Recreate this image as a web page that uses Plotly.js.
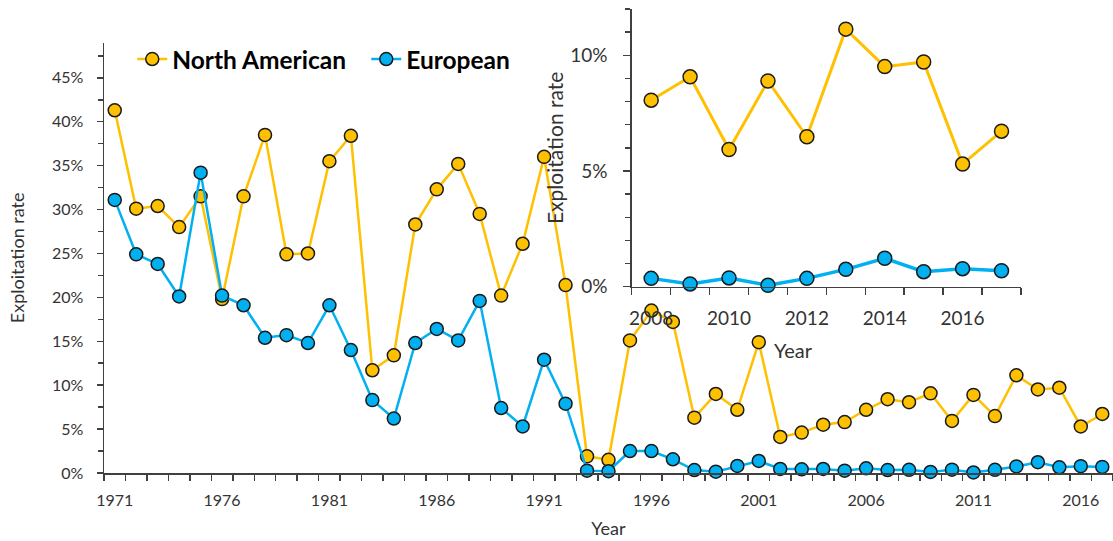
<!DOCTYPE html>
<html>
<head>
<meta charset="utf-8">
<script src="https://cdn.plot.ly/plotly-3.0.1.min.js"></script>
<style>
  html, body { margin: 0; padding: 0; background: #ffffff; }
  #chart { width: 1113px; height: 541px; }
</style>
</head>
<body>
<div id="chart"></div>
<script>
// ---- Data (exploitation rate, %) ----
const years = [1971, 1972, 1973, 1974, 1975, 1976, 1977, 1978, 1979, 1980,
               1981, 1982, 1983, 1984, 1985, 1986, 1987, 1988, 1989, 1990,
               1991, 1992, 1993, 1994, 1995, 1996, 1997, 1998, 1999, 2000,
               2001, 2002, 2003, 2004, 2005, 2006, 2007, 2008, 2009, 2010,
               2011, 2012, 2013, 2014, 2015, 2016, 2017];
const northAmerican = [41.3, 30.1, 30.4, 28.0, 31.5, 19.8, 31.5, 38.5, 24.9, 25.0,
                       35.5, 38.4, 11.7, 13.4, 28.3, 32.3, 35.2, 29.5, 20.2, 26.1,
                       36.0, 21.4, 1.9, 1.5, 15.1, 18.5, 17.2, 6.3, 9.0, 7.2,
                       14.9, 4.1, 4.6, 5.5, 5.8, 7.2, 8.4, 8.06, 9.07, 5.93,
                       8.89, 6.48, 11.13, 9.51, 9.71, 5.30, 6.72];
const european = [31.1, 24.9, 23.8, 20.1, 34.2, 20.2, 19.1, 15.4, 15.7, 14.8,
                  19.1, 14.0, 8.3, 6.2, 14.8, 16.4, 15.1, 19.6, 7.4, 5.3,
                  12.9, 7.9, 0.27, 0.2, 2.5, 2.5, 1.56, 0.34, 0.15, 0.8,
                  1.37, 0.46, 0.42, 0.46, 0.27, 0.53, 0.34, 0.36, 0.12, 0.38,
                  0.06, 0.36, 0.75, 1.23, 0.65, 0.78, 0.69];
const seriesNames = ["North American", "European"];
const insetFirstYear = 2008;

// inset subset (2008 onwards), taken from the same series
const insetStart = years.indexOf(insetFirstYear);
const insetYears = years.slice(insetStart);
const insetNA = northAmerican.slice(insetStart);
const insetEU = european.slice(insetStart);

// ---- Styles ----
const YEL = "#FFC000", BLU = "#00B0F0", EDGE = "#1a1a1a";
const AXC = "#404040", TXT = "#333333", FONT = "Lato, 'Liberation Sans', Arial, sans-serif";

function series(x, y, name, color, opts) {
  return {
    type: "scatter", mode: "lines+markers", x: x, y: y, name: name,
    xaxis: opts.xaxis, yaxis: opts.yaxis, showlegend: opts.showlegend,
    line: { color: color, width: opts.lw },
    marker: { symbol: "circle", size: opts.ms, color: color, line: { color: EDGE, width: 1.5 } },
    hoverinfo: "x+y+name", cliponaxis: false
  };
}

const traces = [
  series(years, northAmerican, seriesNames[0], YEL, { xaxis: "x", yaxis: "y", showlegend: true, lw: 2.5, ms: 13 }),
  series(years, european, seriesNames[1], BLU, { xaxis: "x", yaxis: "y", showlegend: true, lw: 2.5, ms: 13 }),
  series(insetYears, insetNA, seriesNames[0], YEL, { xaxis: "x2", yaxis: "y2", showlegend: false, lw: 3, ms: 14 }),
  series(insetYears, insetEU, seriesNames[1], BLU, { xaxis: "x2", yaxis: "y2", showlegend: false, lw: 3.5, ms: 14 })
];

const layout = {
  width: 1113, height: 541,
  margin: { l: 104, r: 0, t: 9, b: 68 },
  paper_bgcolor: "#ffffff", plot_bgcolor: "rgba(0,0,0,0)",
  font: { family: FONT, color: TXT },
  showlegend: true,
  legend: {
    orientation: "h", x: 0.028, xanchor: "left", y: 0.892, yanchor: "middle",
    bgcolor: "rgba(0,0,0,0)",
    font: { family: FONT, size: 24.5, color: "#000000", weight: "bold" },
    itemwidth: 30, entrywidth: 189, entrywidthmode: "pixels"
  },
  xaxis: {
    domain: [0, 1], anchor: "y", range: [1970.5, 2017.5],
    tickmode: "linear", tick0: 1971, dtick: 5,
    ticks: "outside", ticklen: 6, tickcolor: "rgba(0,0,0,0)", tickwidth: 1.5,
    minor: { tickmode: "linear", tick0: 1970.5, dtick: 1, ticks: "outside", ticklen: 6, tickcolor: AXC, tickwidth: 1.5, showgrid: false },
    showline: true, linecolor: AXC, linewidth: 1.5,
    showgrid: false, zeroline: false,
    tickfont: { family: FONT, size: 16, color: TXT },
    ticklabelstandoff: 6,
    title: { text: "Year", font: { family: FONT, size: 18, color: TXT }, standoff: 14 }
  },
  yaxis: {
    domain: [0, 0.9274], anchor: "x", range: [0, 49],
    tickmode: "linear", tick0: 0, dtick: 5, ticksuffix: "%",
    ticks: "outside", ticklen: 6, tickcolor: AXC, tickwidth: 1.5,
    minor: { tickmode: "linear", tick0: 0, dtick: 2.5, ticks: "outside", ticklen: 5, tickcolor: AXC, tickwidth: 1.5, showgrid: false },
    showline: true, linecolor: AXC, linewidth: 1.5,
    showgrid: false, zeroline: false,
    tickfont: { family: FONT, size: 16, color: TXT },
    ticklabelstandoff: 10,
    title: { text: "Exploitation rate", font: { family: FONT, size: 18, color: TXT }, standoff: 22 }
  },
  xaxis2: {
    domain: [0.523, 0.9088], anchor: "y2", range: [2007.5, 2017.5],
    tickmode: "linear", tick0: 2008, dtick: 2,
    ticks: "outside", ticklen: 7, tickcolor: "rgba(0,0,0,0)", tickwidth: 1.5,
    minor: { tickmode: "linear", tick0: 2007.5, dtick: 1, ticks: "outside", ticklen: 7, tickcolor: AXC, tickwidth: 1.5, showgrid: false },
    showline: true, linecolor: AXC, linewidth: 1.5,
    showgrid: false, zeroline: false,
    tickfont: { family: FONT, size: 19, color: TXT },
    ticklabelstandoff: 7
  },
  yaxis2: {
    domain: [0.4015, 1], anchor: "x2", range: [0, 12],
    tickmode: "linear", tick0: 0, dtick: 5, ticksuffix: "%",
    ticks: "outside", ticklen: 7, tickcolor: AXC, tickwidth: 1.5,
    minor: { tickmode: "linear", tick0: 0, dtick: 1, ticks: "outside", ticklen: 5, tickcolor: AXC, tickwidth: 1.5, showgrid: false },
    showline: true, linecolor: AXC, linewidth: 1.5,
    showgrid: false, zeroline: false,
    tickfont: { family: FONT, size: 19, color: TXT },
    ticklabelstandoff: 12,
    title: { text: "Exploitation rate", font: { family: FONT, size: 21, color: TXT }, standoff: 1 }
  },
  annotations: [{
    text: "Year", xref: "paper", yref: "paper", x: 0.6829, y: 0.265,
    xanchor: "center", yanchor: "middle", showarrow: false,
    font: { family: FONT, size: 20, color: TXT }
  }]
};

Plotly.newPlot("chart", traces, layout, { displayModeBar: false, staticPlot: true });
</script>
</body>
</html>
